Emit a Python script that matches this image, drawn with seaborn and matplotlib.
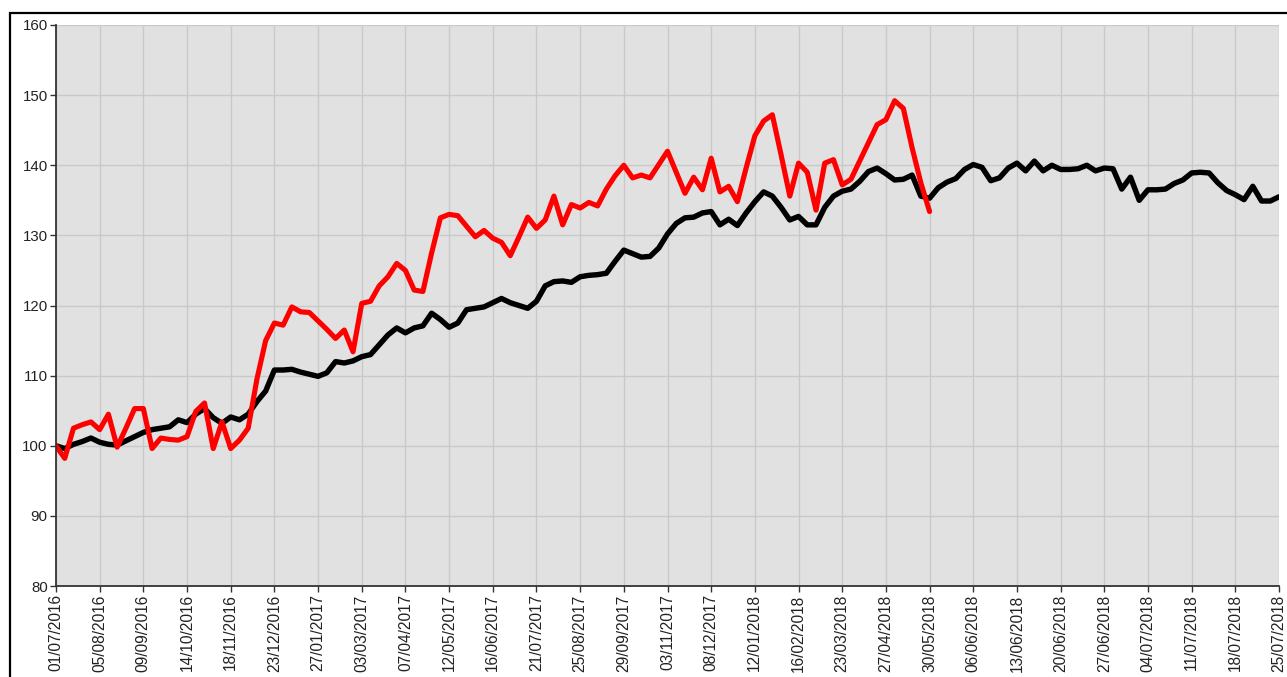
import numpy as np
import pandas as pd
import matplotlib
matplotlib.use("Agg")
import matplotlib.pyplot as plt
from matplotlib.patches import Rectangle
import seaborn as sns

tick_labels = ["01/07/2016", "05/08/2016", "09/09/2016", "14/10/2016", "18/11/2016",
               "23/12/2016", "27/01/2017", "03/03/2017", "07/04/2017", "12/05/2017",
               "16/06/2017", "21/07/2017", "25/08/2017", "29/09/2017", "03/11/2017",
               "08/12/2017", "12/01/2018", "16/02/2018", "23/03/2018", "27/04/2018",
               "30/05/2018", "06/06/2018", "13/06/2018", "20/06/2018", "27/06/2018",
               "04/07/2018", "11/07/2018", "18/07/2018", "25/07/2018"]

black_values = [
    100.0, 99.6, 100.2, 100.6, 101.1, 100.5, 100.2, 100.1, 100.7, 101.3,
    101.9, 102.3, 102.5, 102.7, 103.7, 103.3, 104.5, 105.3, 104.0, 103.2,
    104.1, 103.7, 104.5, 106.3, 107.8, 110.8, 110.8, 110.9, 110.5, 110.2,
    109.9, 110.4, 112.0, 111.8, 112.1, 112.7, 113.0, 114.4, 115.8, 116.8,
    116.1, 116.8, 117.1, 118.9, 118.0, 116.9, 117.5, 119.4, 119.6, 119.8,
    120.4, 121.0, 120.4, 120.0, 119.6, 120.6, 122.8, 123.4, 123.5, 123.3,
    124.1, 124.3, 124.4, 124.6, 126.3, 127.9, 127.4, 126.9, 127.0, 128.2,
    130.2, 131.7, 132.5, 132.6, 133.2, 133.4, 131.5, 132.3, 131.4, 133.2,
    134.8, 136.2, 135.6, 134.0, 132.2, 132.7, 131.5, 131.5, 134.0, 135.6,
    136.3, 136.6, 137.7, 139.1, 139.6, 138.8, 137.9, 138.0, 138.6, 135.6,
    135.3, 136.8, 137.6, 138.1, 139.4, 140.1, 139.7, 137.8, 138.2, 139.6,
    140.3, 139.2, 140.6, 139.2, 140.0, 139.4, 139.4, 139.5, 140.0, 139.2,
    139.6, 139.5, 136.6, 138.3, 135.0, 136.5, 136.5, 136.6, 137.4, 137.9,
    138.9, 139.0, 138.9, 137.5, 136.4, 135.8, 135.1, 137.0, 134.9, 134.9,
    135.5]

red_values = [
    100.0, 98.2, 102.5, 103.0, 103.4, 102.3, 104.5, 99.8, 102.5, 105.3,
    105.3, 99.6, 101.1, 100.9, 100.8, 101.3, 104.9, 106.1, 99.6, 103.4,
    99.6, 100.8, 102.5, 109.5, 115.0, 117.5, 117.2, 119.8, 119.1, 119.0,
    117.8, 116.6, 115.3, 116.5, 113.4, 120.3, 120.6, 122.8, 124.1, 126.0,
    125.0, 122.2, 122.0, 127.5, 132.5, 133.0, 132.8, 131.3, 129.8, 130.7,
    129.6, 129.0, 127.1, 129.8, 132.6, 131.0, 132.2, 135.6, 131.5, 134.4,
    133.9, 134.7, 134.2, 136.6, 138.5, 140.0, 138.2, 138.6, 138.2, 140.1,
    142.0, 139.0, 136.0, 138.3, 136.5, 141.0, 136.2, 137.0, 134.8, 139.6,
    144.2, 146.3, 147.2, 141.5, 135.6, 140.3, 139.0, 133.6, 140.3, 140.8,
    137.2, 138.0, 140.6, 143.2, 145.8, 146.5, 149.2, 148.1, 142.5, 137.5,
    133.4]

sns.set_style("whitegrid", {"axes.facecolor": "#e1e1e1", "grid.color": "#c9c9c9"})
plt.rcParams["font.family"] = ["Liberation Sans", "DejaVu Sans"]

df_black = pd.DataFrame({"idx": np.arange(len(black_values)), "value": black_values})
df_red = pd.DataFrame({"idx": np.arange(len(red_values)), "value": red_values})

fig = plt.figure(figsize=(12.87, 6.77), dpi=100)
ax = fig.add_axes([56 / 1287, 1 - 586 / 677, (1279 - 56) / 1287, (586 - 25) / 677])

sns.lineplot(data=df_black, x="idx", y="value", color="black", linewidth=3.9, ax=ax)
sns.lineplot(data=df_red, x="idx", y="value", color="#ff0000", linewidth=3.7, ax=ax)

ax.set_xlim(0, 140)
ax.set_ylim(80, 160)
ax.set_xticks(np.arange(0, 141, 5))
ax.set_xticklabels(tick_labels, rotation=90, fontsize=11.2, color="#222222")
ax.set_yticks(np.arange(80, 161, 10))
ax.set_yticklabels([str(v) for v in range(80, 161, 10)], fontsize=10.8, color="#222222")
ax.set_xlabel("")
ax.set_ylabel("")
ax.grid(True, color="#c9c9c9", linewidth=1.0)
ax.tick_params(axis="both", direction="out", length=4, width=1, color="#333333", pad=2,
               left=True, bottom=True)
for side in ["top", "right"]:
    ax.spines[side].set_visible(False)
for side in ["left", "bottom"]:
    ax.spines[side].set_visible(True)
    ax.spines[side].set_color("#333333")
    ax.spines[side].set_linewidth(1.3)

fig.add_artist(Rectangle((9.5 / 1287, -0.2), 1.2, 1.2 - 13 / 677, transform=fig.transFigure,
                         fill=False, edgecolor="black", linewidth=1.6))

fig.savefig("out.png", dpi=100)
